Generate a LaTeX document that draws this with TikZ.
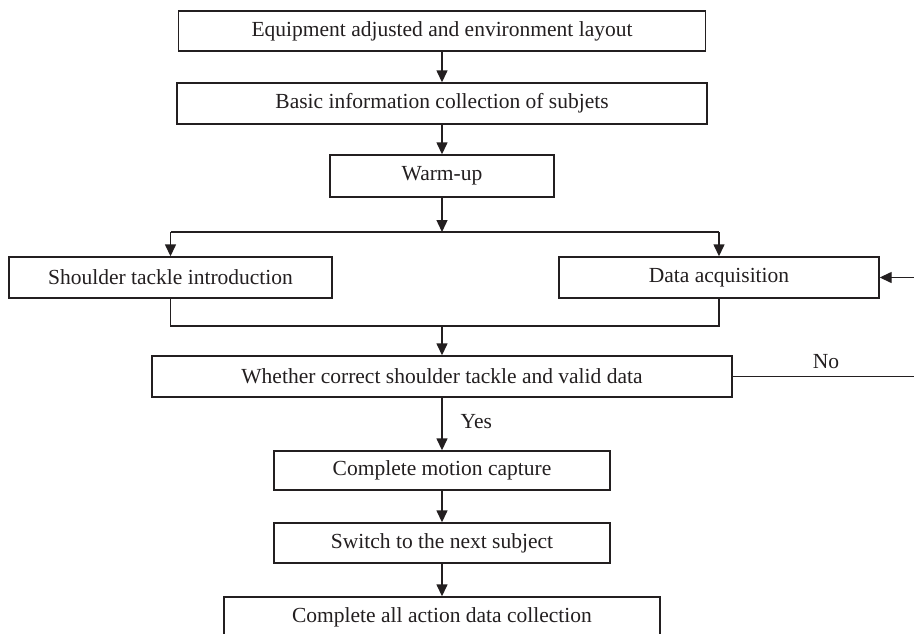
\documentclass[tikz,border=0pt]{standalone}
\usepackage{fontspec}
\setmainfont{Liberation Serif}
\usetikzlibrary{arrows.meta}
\definecolor{ink}{HTML}{231F20}
\begin{document}
\begin{tikzpicture}[x=1pt,y=-1pt,
  box/.style={draw=ink,line width=1.4pt,rectangle,inner sep=0pt,align=center,text=ink,
    font=\fontsize{21.5}{24}\selectfont},
  lbl/.style={inner sep=0pt,text=ink,font=\fontsize{21.5}{24}\selectfont},
  conn/.style={draw=ink,line width=1.4pt},
  arr/.style={conn,-{Triangle[length=12pt,width=11pt]}}]
\useasboundingbox (0,0) rectangle (914,633);
\clip (0,0) rectangle (914,633);
\fill[white] (0,0) rectangle (914,633);
\node[box,minimum width=527,minimum height=40] (b1) at (442,31) {Equipment adjusted and environment layout};
\node[box,minimum width=530,minimum height=41] (b2) at (442,103.5) {Basic information collection of subjets};
\node[box,minimum width=224,minimum height=42] (b3) at (442,176) {Warm-up};
\node[box,minimum width=323,minimum height=41] (b4) at (170.5,277.5) {Shoulder tackle introduction};
\node[box,minimum width=320,minimum height=41] (b5) at (719,277.5) {Data acquisition};
\node[box,minimum width=580,minimum height=41] (b6) at (442,376.5) {Whether correct shoulder tackle and valid data};
\node[box,minimum width=336,minimum height=39] (b7) at (442,470.5) {Complete motion capture};
\node[box,minimum width=336,minimum height=40] (b8) at (442,543) {Switch to the next subject};
\node[box,minimum width=436,minimum height=40] (b9) at (442,617) {Complete all action data collection};
\coordinate (split) at (442,232);
\coordinate (join) at (442,326);
\coordinate (noend) at (940,376.5);
\draw[arr] (b1) -- (b2);
\draw[arr] (b2) -- (b3);
\draw[arr] (b3) -- (split);
\draw[conn] (split -| b4) -- (split -| b5);
\draw[arr] (split -| b4) -- (b4);
\draw[arr] (split -| b5) -- (b5);
\draw[conn] (b4.south) |- (join) -| (b5.south);
\draw[arr] (join) -- (b6);
\draw[arr] (b6) -- node[lbl,right=18pt,pos=0.45] (yes) {Yes} (b7);
\draw[arr] (b7) -- (b8);
\draw[arr] (b8) -- (b9);
\draw[arr] (b6.east) -- (noend) |- (b5.east);
\node[lbl] (no) at (826,362) {No};
\end{tikzpicture}
\end{document}
